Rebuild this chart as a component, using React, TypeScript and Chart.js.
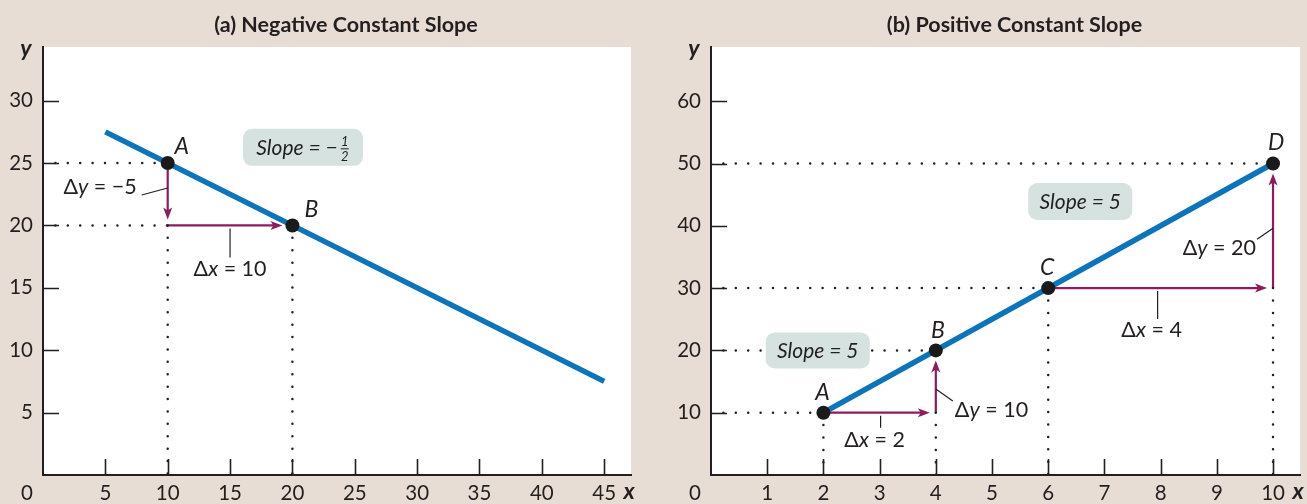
import React, { useEffect, useRef } from 'react';
import { Chart, registerables } from 'chart.js';
Chart.register(...registerables);

const FONT = 'Lato, "Open Sans", "DejaVu Sans", sans-serif';
const INK = '#231f20';
const BLUE = '#0b74bb';
const PURPLE = '#8d1b5d';
const BOX = '#d6e2df';
const BEIGE = '#e8ddd4';

// ---------- Panel (a): Negative Constant Slope ----------
const aTitle = '(a) Negative Constant Slope';
const aXTicks = [5, 10, 15, 20, 25, 30, 35, 40, 45];
const aYTicks = [5, 10, 15, 20, 25, 30];
const aXMax = 47.15;
const aYMax = 34.3;
const aLineX = [5, 45];
const aLineY = [27.5, 7.5];
const aPointX = [10, 20];
const aPointY = [25, 20];
const aPointNames = ['A', 'B'];
const aGuides = [[0, 25, 10, 25], [0, 20, 10, 20], [10, 20, 10, 0], [20, 20, 20, 0]];
const aArrows = [[10, 25, 10, 20], [10, 20, 20, 20]];
const aSlopeText = ['Slope = −1/2'];
const aSlopeAt = [[20.85, 26.26]];
const aDeltaText = ['Δy = −5', 'Δx = 10'];
const aDeltaAt = [[10, 23], [15, 20]];

// ---------- Panel (b): Positive Constant Slope ----------
const bTitle = '(b) Positive Constant Slope';
const bXTicks = [1, 2, 3, 4, 5, 6, 7, 8, 9, 10];
const bYTicks = [10, 20, 30, 40, 50, 60];
const bXMax = 10.48;
const bYMax = 68.7;
const bLineX = [2, 10];
const bLineY = [10, 50];
const bPointX = [2, 4, 6, 10];
const bPointY = [10, 20, 30, 50];
const bPointNames = ['A', 'B', 'C', 'D'];
const bGuides = [
  [0, 10, 2, 10], [0, 20, 4, 20], [0, 30, 6, 30], [0, 50, 10, 50],
  [2, 10, 2, 0], [4, 10, 4, 0], [6, 30, 6, 0], [10, 30, 10, 0],
];
const bArrows = [[2, 10, 4, 10], [4, 10, 4, 20], [6, 30, 10, 30], [10, 30, 10, 50]];
const bSlopeText = ['Slope = 5', 'Slope = 5'];
const bSlopeAt = [[6.57, 43.9], [1.9, 20.0]];
const bDeltaText = ['Δx = 2', 'Δy = 10', 'Δx = 4', 'Δy = 20'];
const bDeltaAt = [[3, 10], [4, 13.8], [8, 30], [10, 39.6]];

// ---------- Layout (pixel offsets / sizes, kept apart from the data) ----------
const TITLE_SHIFT = 9;
const aLayout = {
  yAxisWidth: 43, padRight: 9,
  pointLabelOff: [[14, -16], [19, -16]],
  slopeSize: [[120, 37]],
  delta: [
    { lead: [0, 0, -26, 7], text: [-31, -1], align: 'right' },
    { lead: [0, 3, 0, 32], text: [0, 44], align: 'center' },
  ],
};
const bLayout = {
  yAxisWidth: 71, padRight: 7,
  pointLabelOff: [[-1, -20], [2, -20], [-1, -21], [3, -21]],
  slopeSize: [[104, 37], [104, 36]],
  delta: [
    { lead: [1, 3, 1, 15], text: [-5, 27], align: 'center' },
    { lead: [0, 0, 17, 12], text: [19, 21], align: 'left' },
    { lead: [-3, 3, -3, 31], text: [-9, 42], align: 'center' },
    { lead: [0, 0, -16, 11], text: [-17, 20], align: 'right' },
  ],
};

type Cfg = any;

function parseDelta(t: string): [string, boolean][] {
  return [[t.slice(0, 1), false], [t.slice(1, 2), true], [t.slice(2), false]];
}

function drawRich(ctx: CanvasRenderingContext2D, parts: [string, boolean][], x: number, y: number, align: string, size: number) {
  const fonts = parts.map(([, it]) => `${it ? 'italic ' : ''}${size}px ${FONT}`);
  let total = 0;
  const widths = parts.map(([t], i) => {
    ctx.font = fonts[i];
    const w = ctx.measureText(t).width;
    total += w;
    return w;
  });
  let cx = align === 'left' ? x : align === 'center' ? x - total / 2 : x - total;
  ctx.textAlign = 'left';
  ctx.textBaseline = 'middle';
  parts.forEach(([t], i) => {
    ctx.font = fonts[i];
    ctx.fillText(t, cx, y);
    cx += widths[i];
  });
}

function arrowHead(ctx: CanvasRenderingContext2D, x: number, y: number, ang: number) {
  const L = 12, W = 4.5, N = 3;
  ctx.save();
  ctx.translate(x, y);
  ctx.rotate(ang);
  ctx.beginPath();
  ctx.moveTo(0, 0);
  ctx.lineTo(-L, -W);
  ctx.lineTo(-L + N, 0);
  ctx.lineTo(-L, W);
  ctx.closePath();
  ctx.fill();
  ctx.restore();
}

function drawSlope(ctx: CanvasRenderingContext2D, text: string, cx: number, cy: number, w: number, h: number) {
  ctx.save();
  ctx.fillStyle = BOX;
  ctx.beginPath();
  (ctx as any).roundRect(cx - w / 2, cy - h / 2, w, h, 9);
  ctx.fill();
  ctx.fillStyle = INK;
  ctx.textBaseline = 'middle';
  const size = 21;
  const main = `italic ${size}px ${FONT}`;
  const frac = text.match(/^(.*?)(\d+)\/(\d+)$/);
  if (frac) {
    const head = frac[1];
    ctx.font = main;
    const wh = ctx.measureText(head).width;
    const fw = 10;
    const total = wh + 2 + fw;
    let x = cx - total / 2;
    ctx.textAlign = 'left';
    ctx.fillText(head, x, cy + 1);
    const fx = x + wh + 2 + fw / 2;
    ctx.font = `italic 13px ${FONT}`;
    ctx.textAlign = 'center';
    ctx.fillText(frac[2], fx, cy - 6);
    ctx.fillText(frac[3], fx, cy + 9);
    ctx.strokeStyle = INK;
    ctx.lineWidth = 1;
    ctx.beginPath();
    ctx.moveTo(fx - 4, cy + 1.5);
    ctx.lineTo(fx + 4, cy + 1.5);
    ctx.stroke();
  } else {
    ctx.font = main;
    ctx.textAlign = 'center';
    ctx.fillText(text, cx, cy + 1);
  }
  ctx.restore();
}

function makeChart(canvas: HTMLCanvasElement, c: Cfg) {
  const L = c.layout;
  const plugin = {
    id: 'decor',
    beforeDraw(chart: any) {
      const { ctx, chartArea: a } = chart;
      ctx.save();
      ctx.fillStyle = '#ffffff';
      ctx.fillRect(a.left, a.top, a.right - a.left, a.bottom - a.top);
      ctx.restore();
    },
    beforeDatasetsDraw(chart: any) {
      const { ctx } = chart;
      const xs = chart.scales.x, ys = chart.scales.y;
      ctx.save();
      ctx.strokeStyle = PURPLE;
      ctx.fillStyle = PURPLE;
      ctx.lineWidth = 2.2;
      for (const [x0, y0, x1, y1] of c.arrows) {
        const sx = xs.getPixelForValue(x0), sy = ys.getPixelForValue(y0);
        const ex = xs.getPixelForValue(x1), ey = ys.getPixelForValue(y1);
        const atPoint = c.pointX.some((x: number, i: number) => x === x1 && c.pointY[i] === y1);
        const gap = atPoint ? 10 : 6;
        const ang = Math.atan2(ey - sy, ex - sx);
        const tx = ex - Math.cos(ang) * gap, ty = ey - Math.sin(ang) * gap;
        ctx.beginPath();
        ctx.moveTo(sx, sy);
        ctx.lineTo(tx - Math.cos(ang) * 5, ty - Math.sin(ang) * 5);
        ctx.stroke();
        arrowHead(ctx, tx, ty, ang);
      }
      ctx.restore();
    },
    afterDatasetsDraw(chart: any) {
      const { ctx, chartArea: a } = chart;
      const xs = chart.scales.x, ys = chart.scales.y;
      ctx.save();
      // inward tick marks
      ctx.strokeStyle = INK;
      ctx.lineWidth = 1.6;
      ctx.beginPath();
      for (const v of c.xTicks) {
        const p = Math.round(xs.getPixelForValue(v)) + 0.5;
        ctx.moveTo(p, a.bottom);
        ctx.lineTo(p, a.bottom - 16);
      }
      for (const v of c.yTicks) {
        const p = Math.round(ys.getPixelForValue(v)) + 0.5;
        ctx.moveTo(a.left, p);
        ctx.lineTo(a.left + 16, p);
      }
      ctx.stroke();

      // leader lines + delta labels
      ctx.fillStyle = INK;
      ctx.lineWidth = 1.2;
      c.deltaText.forEach((t: string, i: number) => {
        const ax = xs.getPixelForValue(c.deltaAt[i][0]);
        const ay = ys.getPixelForValue(c.deltaAt[i][1]);
        const d = L.delta[i];
        ctx.beginPath();
        ctx.moveTo(ax + d.lead[0], ay + d.lead[1]);
        ctx.lineTo(ax + d.lead[2], ay + d.lead[3]);
        ctx.stroke();
        drawRich(ctx, parseDelta(t), ax + d.text[0], ay + d.text[1], d.align, 21.5);
      });

      // slope boxes
      c.slopeText.forEach((t: string, i: number) => {
        const cx = xs.getPixelForValue(c.slopeAt[i][0]);
        const cy = ys.getPixelForValue(c.slopeAt[i][1]);
        drawSlope(ctx, t, cx, cy, L.slopeSize[i][0], L.slopeSize[i][1]);
      });

      // point names
      ctx.fillStyle = INK;
      ctx.font = `italic 23px ${FONT}`;
      ctx.textAlign = 'center';
      ctx.textBaseline = 'middle';
      c.pointNames.forEach((n: string, i: number) => {
        const px = xs.getPixelForValue(c.pointX[i]);
        const py = ys.getPixelForValue(c.pointY[i]);
        ctx.fillText(n, px + L.pointLabelOff[i][0], py + L.pointLabelOff[i][1]);
      });

      // title
      ctx.font = `bold 21.5px ${FONT}`;
      ctx.fillText(c.title, (a.left + a.right) / 2 + TITLE_SHIFT, 25);

      // axis letters and origin
      ctx.font = `italic bold 23px ${FONT}`;
      ctx.textBaseline = 'alphabetic';
      ctx.fillText('y', a.left - 17, 56);
      ctx.fillText('x', a.right - 2, a.bottom + 24);
      ctx.font = `20.5px ${FONT}`;
      ctx.textBaseline = 'middle';
      ctx.fillText('0', a.left - 16, a.bottom + 18);
      ctx.restore();
    },
  };

  const datasets: any[] = [
    {
      data: c.pointX.map((x: number, i: number) => ({ x, y: c.pointY[i] })),
      pointRadius: 7, pointBackgroundColor: '#1a1a1a', pointBorderWidth: 0,
      showLine: false, order: 0,
    },
    {
      data: c.lineX.map((x: number, i: number) => ({ x, y: c.lineY[i] })),
      showLine: true, borderColor: BLUE, borderWidth: 5.5, pointRadius: 0,
      borderCapStyle: 'butt', order: 1,
    },
    ...c.guides.map((g: number[]) => ({
      data: [{ x: g[0], y: g[1] }, { x: g[2], y: g[3] }],
      showLine: true, borderColor: INK, borderWidth: 2.5, pointRadius: 0,
      borderDash: [0.001, 12.4], borderCapStyle: 'round', order: 3,
    })),
  ];

  return new Chart(canvas, {
    type: 'scatter',
    data: { datasets },
    options: {
      responsive: false,
      animation: false,
      events: [],
      layout: { padding: { left: 0, right: L.padRight, top: 47, bottom: 0 } },
      plugins: { legend: { display: false }, tooltip: { enabled: false }, title: { display: false } },
      scales: {
        x: {
          type: 'linear', min: 0, max: c.xMax,
          grid: { display: false, drawTicks: false },
          border: { display: true, color: INK, width: 2 },
          afterBuildTicks: (s: any) => { s.ticks = c.xTicks.map((v: number) => ({ value: v })); },
          afterFit: (s: any) => { s.height = 29; },
          ticks: { font: { family: FONT, size: 20.5 }, color: INK, padding: 6, maxRotation: 0, autoSkip: false },
        },
        y: {
          type: 'linear', min: 0, max: c.yMax,
          grid: { display: false, drawTicks: false },
          border: { display: true, color: INK, width: 2 },
          afterBuildTicks: (s: any) => { s.ticks = c.yTicks.map((v: number) => ({ value: v })); },
          afterFit: (s: any) => { s.width = L.yAxisWidth; },
          ticks: { font: { family: FONT, size: 20.5 }, color: INK, padding: 10, autoSkip: false },
        },
      },
    } as any,
    plugins: [plugin as any],
  });
}

const cfgA = {
  title: aTitle, xTicks: aXTicks, yTicks: aYTicks, xMax: aXMax, yMax: aYMax,
  lineX: aLineX, lineY: aLineY, pointX: aPointX, pointY: aPointY, pointNames: aPointNames,
  guides: aGuides, arrows: aArrows, slopeText: aSlopeText, slopeAt: aSlopeAt,
  deltaText: aDeltaText, deltaAt: aDeltaAt, layout: aLayout,
};
const cfgB = {
  title: bTitle, xTicks: bXTicks, yTicks: bYTicks, xMax: bXMax, yMax: bYMax,
  lineX: bLineX, lineY: bLineY, pointX: bPointX, pointY: bPointY, pointNames: bPointNames,
  guides: bGuides, arrows: bArrows, slopeText: bSlopeText, slopeAt: bSlopeAt,
  deltaText: bDeltaText, deltaAt: bDeltaAt, layout: bLayout,
};

function Panel({ cfg, left, width }: { cfg: Cfg; left: number; width: number }) {
  const ref = useRef<HTMLCanvasElement>(null);
  useEffect(() => {
    const chart = makeChart(ref.current as HTMLCanvasElement, cfg);
    return () => chart.destroy();
  }, []);
  return (
    <canvas
      ref={ref}
      width={width}
      height={504}
      style={{ position: 'absolute', left, top: 0, width, height: 504, display: 'block' }}
    />
  );
}

export default function App() {
  return (
    <div style={{ position: 'fixed', left: 0, top: 0, width: 1307, height: 504, background: BEIGE, overflow: 'hidden' }}>
      <Panel cfg={cfgA} left={0} width={640} />
      <Panel cfg={cfgB} left={640} width={667} />
    </div>
  );
}
